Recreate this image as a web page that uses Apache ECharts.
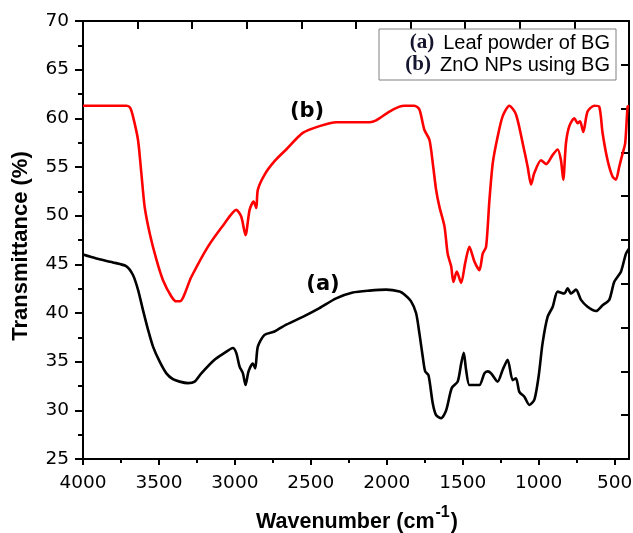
<!DOCTYPE html>
<html>
<head>
<meta charset="utf-8">
<title>FTIR spectra</title>
<script src="https://cdn.jsdelivr.net/npm/echarts@6/dist/echarts.min.js"></script>
<style>
  html, body { margin: 0; padding: 0; background: #fff; }
  #chart { width: 633px; height: 533px; }
</style>
</head>
<body>
<div id="chart"></div>
<script>
// FTIR spectra: wavenumber (cm-1) vs transmittance (%)
const leafWavenumber = [4000, 3912, 3803, 3714, 3671, 3638, 3605, 3572, 3539, 3495, 3451, 3408, 3364, 3309, 3265, 3221, 3134, 3068, 3013, 2991, 2969, 2947, 2930, 2910, 2882, 2866, 2849, 2805, 2739, 2662, 2553, 2443, 2333, 2224, 2114, 2004, 1916, 1884, 1840, 1807, 1785, 1763, 1747, 1725, 1697, 1675, 1642, 1609, 1572, 1533, 1510, 1493, 1478, 1456, 1423, 1390, 1357, 1335, 1313, 1270, 1237, 1204, 1171, 1149, 1127, 1094, 1061, 1028, 1000, 974, 941, 907, 875, 831, 809, 787, 754, 721, 678, 622, 579, 535, 502, 458, 425, 405];
const leafTransmittance = [46.0, 45.6, 45.2, 44.8, 43.9, 42.4, 40.3, 38.3, 36.55, 35.0, 33.8, 33.2, 32.95, 32.8, 32.95, 33.8, 35.2, 35.9, 36.4, 35.9, 34.5, 33.8, 32.6, 34.0, 34.8, 34.3, 36.55, 37.75, 38.1, 38.8, 39.6, 40.5, 41.5, 42.1, 42.3, 42.4, 42.2, 41.9, 41.2, 40.0, 37.9, 35.5, 34.0, 33.6, 30.7, 29.5, 29.2, 30.0, 32.3, 32.95, 34.8, 35.9, 34.2, 32.6, 32.6, 32.6, 33.8, 34.0, 33.8, 32.95, 34.15, 35.2, 33.1, 33.3, 31.9, 31.4, 30.55, 31.1, 33.5, 36.9, 39.6, 40.65, 42.2, 42.0, 42.55, 42.0, 42.4, 41.35, 40.65, 40.2, 40.8, 41.35, 43.2, 44.25, 46.1, 46.6];

const znoWavenumber = [4000, 3714, 3690, 3671, 3638, 3616, 3594, 3561, 3517, 3474, 3418, 3386, 3362, 3287, 3178, 3068, 2991, 2958, 2930, 2903, 2877, 2859, 2849, 2805, 2739, 2662, 2553, 2443, 2333, 2224, 2114, 2070, 1982, 1916, 1884, 1818, 1785, 1752, 1719, 1697, 1675, 1653, 1620, 1599, 1576, 1561, 1539, 1510, 1484, 1456, 1423, 1390, 1368, 1346, 1324, 1302, 1270, 1237, 1193, 1149, 1105, 1072, 1050, 1028, 984, 951, 907, 875, 853, 838, 820, 798, 765, 743, 727, 706, 678, 634, 601, 579, 546, 513, 491, 469, 447, 430, 414, 405];
const znoTransmittance = [61.3, 61.3, 61.1, 60.2, 57.8, 54.4, 50.9, 48.2, 45.5, 43.4, 41.7, 41.2, 41.2, 43.7, 46.8, 49.2, 50.6, 49.9, 48.0, 50.6, 51.45, 50.8, 52.65, 54.2, 55.6, 56.8, 58.5, 59.2, 59.6, 59.6, 59.6, 59.8, 60.7, 61.2, 61.3, 61.3, 60.9, 58.8, 57.8, 55.4, 52.65, 50.9, 48.9, 46.1, 44.8, 43.2, 44.25, 43.1, 45.1, 46.8, 45.3, 44.4, 46.1, 46.8, 51.6, 55.4, 58.1, 60.2, 61.3, 60.4, 57.45, 55.0, 53.2, 54.4, 55.7, 55.3, 56.25, 56.8, 55.7, 53.7, 57.45, 59.2, 60.0, 59.5, 59.7, 58.6, 60.7, 61.3, 61.2, 58.5, 55.7, 54.0, 53.7, 55.05, 56.4, 57.45, 61.2, 61.3];

const majorTicks = [4000, 3500, 3000, 2500, 2000, 1500, 1000, 500];
const minorTicks = [3750, 3250, 2750, 2250, 1750, 1250, 750];
const legendLines = [
  ['(a)', 'Leaf powder of BG'],
  ['(b)', 'ZnO NPs using BG']
];

const pair = (xs, ys) => xs.map((x, i) => [x, ys[i]]);

const tickFont = { fontFamily: 'DejaVu Sans', fontSize: 18.5, color: '#000', formatter: v => String(v) };
const axisLine = { show: true, lineStyle: { color: '#000', width: 2 } };

const chart = echarts.init(document.getElementById('chart'), null, { renderer: 'canvas' });

chart.setOption({
  animation: false,
  backgroundColor: '#fff',
  grid: { left: 83, right: 4, top: 21, bottom: 74, containLabel: false, outerBoundsMode: 'none' },
  xAxis: [
    {
      type: 'value', position: 'bottom', min: 405, max: 4000, inverse: true,
      axisLine: axisLine,
      axisTick: { show: true, inside: false, length: 6, customValues: majorTicks, lineStyle: { color: '#000', width: 2 } },
      axisLabel: Object.assign({ margin: 15, customValues: majorTicks }, tickFont),
      splitLine: { show: false }
    },
    {
      type: 'value', position: 'bottom', min: 405, max: 4000, inverse: true,
      axisLine: { show: false },
      axisTick: { show: true, inside: false, length: 4, customValues: minorTicks, lineStyle: { color: '#000', width: 2 } },
      axisLabel: { show: false },
      splitLine: { show: false }
    },
    {
      type: 'value', position: 'top', min: 0, max: 10, interval: 1,
      axisLine: axisLine,
      axisTick: { show: true, inside: true, length: 8, lineStyle: { color: '#000', width: 2 } },
      axisLabel: { show: false },
      splitLine: { show: false }
    }
  ],
  yAxis: [
    {
      type: 'value', position: 'left', min: 25, max: 70, interval: 5,
      axisLine: axisLine,
      axisTick: { show: true, inside: false, length: 8, lineStyle: { color: '#000', width: 2 } },
      minorTick: { show: true, splitNumber: 2, length: 5, lineStyle: { color: '#000', width: 2 } },
      axisLabel: Object.assign({ margin: 14 }, tickFont),
      splitLine: { show: false },
      minorSplitLine: { show: false }
    },
    {
      type: 'value', position: 'right', min: 0, max: 10, interval: 1,
      axisLine: axisLine,
      axisTick: { show: true, inside: true, length: 8, lineStyle: { color: '#000', width: 2 } },
      axisLabel: { show: false },
      splitLine: { show: false }
    }
  ],
  series: [
    {
      name: 'Leaf powder of BG', type: 'line', xAxisIndex: 0, yAxisIndex: 0,
      data: pair(leafWavenumber, leafTransmittance),
      showSymbol: false, smooth: 0.25,
      lineStyle: { color: '#000', width: 2.6 }
    },
    {
      name: 'ZnO NPs using BG', type: 'line', xAxisIndex: 0, yAxisIndex: 0,
      data: pair(znoWavenumber, znoTransmittance),
      showSymbol: false, smooth: 0.25,
      lineStyle: { color: '#ff0000', width: 2.6 }
    }
  ],
  graphic: [
    // legend box
    {
      type: 'rect', z: 10,
      shape: { x: 379, y: 29, width: 237, height: 51 },
      style: { fill: '#fff', stroke: '#808080', lineWidth: 1 }
    },
    ...legendLines.map((ln, i) => ({
      type: 'text', z: 11, x: 610, y: 43 + i * 22,
      style: {
        text: '{s|' + ln[0] + '}{t|' + ln[1] + '}',
        align: 'right', verticalAlign: 'middle',
        rich: {
          s: { fontFamily: 'Liberation Serif', fontWeight: 'bold', fontSize: 21, fill: '#14142e', padding: [0, 9, 0, 0] },
          t: { fontFamily: 'Liberation Sans', fontSize: 20, fill: '#000' }
        }
      }
    })),
    // curve labels
    {
      type: 'text', z: 11, x: 307, y: 112,
      style: { text: '(b)', align: 'center', verticalAlign: 'middle', fontFamily: 'DejaVu Sans', fontWeight: 'bold', fontSize: 21, fill: '#000' }
    },
    {
      type: 'text', z: 11, x: 323, y: 285,
      style: { text: '(a)', align: 'center', verticalAlign: 'middle', fontFamily: 'DejaVu Sans', fontWeight: 'bold', fontSize: 21, fill: '#000' }
    },
    // axis titles
    {
      type: 'text', z: 11, x: 21, y: 246, rotation: Math.PI / 2,
      style: { text: 'Transmittance (%)', align: 'center', verticalAlign: 'middle', fontFamily: 'Liberation Sans', fontWeight: 'bold', fontSize: 22, fill: '#000' }
    },
    {
      type: 'text', z: 11, x: 357, y: 520,
      style: {
        text: '{b|Wavenumber }{p|(cm}{sup|-1}{p|)}',
        align: 'center', verticalAlign: 'middle',
        rich: {
          b: { fontFamily: 'Liberation Sans', fontWeight: 'bold', fontSize: 21.5, fill: '#000', verticalAlign: 'bottom', lineHeight: 27 },
          p: { fontFamily: 'Liberation Sans', fontWeight: 'bold', fontSize: 21.5, fill: '#000', verticalAlign: 'bottom', lineHeight: 27 },
          sup: { fontFamily: 'Liberation Sans', fontWeight: 'bold', fontSize: 16, fill: '#000', verticalAlign: 'bottom', lineHeight: 27, padding: [0, 1, 13, 1] }
        }
      }
    }
  ]
});
</script>
</body>
</html>
